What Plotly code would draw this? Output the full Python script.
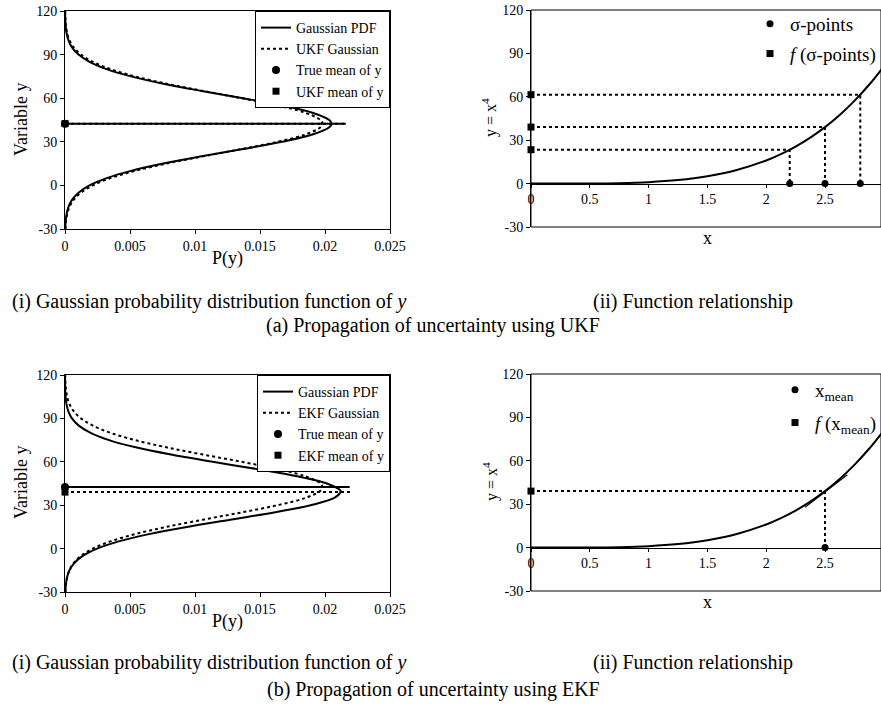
import plotly.graph_objects as go

W, H = 881, 723
FONT = "Liberation Serif, Times New Roman, serif"

# ---------------- data ----------------
# (a)(i) UKF: PDFs of y
y_grid_a = [-30, -25, -20, -15, -10, -5, 0, 5, 10, 15, 20, 25, 30, 35, 40, 42.5,
            45, 50, 55, 60, 65, 70, 75, 80, 85, 90, 95, 100, 105, 110, 115, 120]
pdf_true_a = [0.00002, 0.00005, 0.000118, 0.000261, 0.000539, 0.00104, 0.00189, 0.0032,
              0.00508, 0.00756, 0.01051, 0.01369, 0.01668, 0.01903, 0.02033, 0.0205,
              0.02033, 0.01903, 0.01668, 0.01369, 0.01051, 0.00756, 0.00508, 0.0032,
              0.00189, 0.00104, 0.000539, 0.000261, 0.000118, 0.00005, 0.00002, 0.0000074]
pdf_ukf_a = [0.0000306, 0.0000725, 0.000161, 0.000338, 0.000665, 0.00123, 0.00214, 0.0035,
             0.00539, 0.0078, 0.01062, 0.01358, 0.01634, 0.01848, 0.01965, 0.0198,
             0.01965, 0.01848, 0.01634, 0.01358, 0.01062, 0.0078, 0.00539, 0.0035,
             0.00214, 0.00123, 0.000665, 0.000338, 0.000161, 0.0000725, 0.0000306, 0.000012]
true_mean_a = 42.5
ukf_mean_a = 42.5
mean_line_end_a = [0.0216, 0.0216]   # P extent of true / UKF mean lines

# (b)(i) EKF: PDFs of y
y_grid_true_b = [-30, -25, -20, -15, -10, -5, 0, 5, 10, 15, 20, 25, 30, 35, 39, 40,
                 45, 50, 55, 60, 65, 70, 75, 80, 85, 90, 95, 100, 105, 110, 115, 120]
pdf_true_b = [0.0000252, 0.0000645, 0.000154, 0.000343, 0.00071, 0.00137, 0.00247, 0.00413,
              0.00645, 0.00939, 0.01272, 0.01607, 0.0189, 0.02072, 0.0212, 0.0212,
              0.02015, 0.01787, 0.01476, 0.01136, 0.00815, 0.00544, 0.00339, 0.00197,
              0.00106, 0.000535, 0.000251, 0.00011, 0.0000447, 0.000017, 0.000006, 0.000002]
y_grid_ekf_b = [-30, -25, -20, -15, -10, -5, 0, 5, 10, 15, 20, 25, 30, 35, 40, 42.5,
                45, 50, 55, 60, 65, 70, 75, 80, 85, 90, 95, 100, 105, 110, 115, 120]
pdf_ekf_b = [0.0000306, 0.0000725, 0.000161, 0.000338, 0.000665, 0.00123, 0.00214, 0.0035,
             0.00539, 0.0078, 0.01062, 0.01358, 0.01634, 0.01848, 0.01965, 0.0198,
             0.01965, 0.01848, 0.01634, 0.01358, 0.01062, 0.0078, 0.00539, 0.0035,
             0.00214, 0.00123, 0.000665, 0.000338, 0.000161, 0.0000725, 0.0000306, 0.000012]
true_mean_b = 42.5
ekf_mean_b = 39.06
mean_line_end_b = [0.0219, 0.0221]

# (ii) function y = x^4
fx = [0, 0.25, 0.5, 0.75, 1.0, 1.25, 1.5, 1.75, 2.0, 2.125, 2.25, 2.375, 2.5,
      2.625, 2.75, 2.875, 3.0]
fy = [0, 0.004, 0.0625, 0.316, 1.0, 2.44, 5.06, 9.38, 16.0, 20.39, 25.63, 31.82, 39.06,
      47.48, 57.19, 68.32, 81.0]

sigma_x = [2.2, 2.5, 2.8]
sigma_fy = [23.43, 39.06, 61.47]

xmean = [2.5]
xmean_fy = [39.06]
tangent_x = [2.33, 2.69]
tangent_y = [27.8, 50.3]

p_ticks = [0, 0.005, 0.01, 0.015, 0.02, 0.025]
p_ticklabels = ["0", "0.005", "0.01", "0.015", "0.02", "0.025"]
y_ticks = [-30, 0, 30, 60, 90, 120]
y_ticklabels = ["-30", "0", "30", "60", "90", "120"]
x_ticks = [0, 0.5, 1, 1.5, 2, 2.5]
x_ticklabels = ["0", "0.5", "1", "1.5", "2", "2.5"]

# ---------------- layout helpers (page pixel -> paper fraction) ----------------
def fx_(px):
    return px / W

def fy_(py):
    return 1 - py / H

XL = [fx_(65), fx_(390)]
XR = [fx_(531), 1.0]
YT_L = [fy_(229), fy_(11)]
YT_R = [fy_(227), fy_(10)]
YB_L = [fy_(592), fy_(375)]
YB_R = [fy_(591), fy_(374)]
# right panels: x=0 at px 531, x=2.5 at px 825
X_RIGHT_END = (W - 531) / ((825 - 531) / 2.5)

fig = go.Figure()
BLK = "black"

def pdf_panel(xa, ya, leg, y_true, p_true, y_alt, p_alt, alt_name, m_true, m_alt, ends, mean_name):
    fig.add_trace(go.Scatter(x=p_true, y=y_true, mode="lines", name="Gaussian PDF",
                             line=dict(color=BLK, width=2, shape="spline"),
                             xaxis=xa, yaxis=ya, legend=leg))
    fig.add_trace(go.Scatter(x=p_alt, y=y_alt, mode="lines", name=alt_name,
                             line=dict(color=BLK, width=2, dash="dot", shape="spline"),
                             xaxis=xa, yaxis=ya, legend=leg))
    fig.add_trace(go.Scatter(x=[0, ends[0]], y=[m_true, m_true], mode="lines", showlegend=False,
                             line=dict(color=BLK, width=2), xaxis=xa, yaxis=ya))
    fig.add_trace(go.Scatter(x=[0, ends[1]], y=[m_alt, m_alt], mode="lines", showlegend=False,
                             line=dict(color=BLK, width=2, dash="dot"), xaxis=xa, yaxis=ya))
    fig.add_trace(go.Scatter(x=[0], y=[m_true], mode="markers", name="True mean of y",
                             marker=dict(symbol="circle", size=8, color=BLK), cliponaxis=False,
                             xaxis=xa, yaxis=ya, legend=leg))
    fig.add_trace(go.Scatter(x=[0], y=[m_alt], mode="markers", name=mean_name,
                             marker=dict(symbol="square", size=7, color=BLK), cliponaxis=False,
                             xaxis=xa, yaxis=ya, legend=leg))

pdf_panel("x", "y", "legend", y_grid_a, pdf_true_a, y_grid_a, pdf_ukf_a, "UKF Gaussian",
          true_mean_a, ukf_mean_a, mean_line_end_a, "UKF mean of y")
pdf_panel("x3", "y3", "legend3", y_grid_true_b, pdf_true_b, y_grid_ekf_b, pdf_ekf_b, "EKF Gaussian",
          true_mean_b, ekf_mean_b, mean_line_end_b, "EKF mean of y")

# ---- (a)(ii)
fig.add_trace(go.Scatter(x=fx, y=fy, mode="lines", showlegend=False,
                         line=dict(color=BLK, width=2, shape="spline"), xaxis="x2", yaxis="y2"))
for xs, ys in zip(sigma_x, sigma_fy):
    fig.add_trace(go.Scatter(x=[0, xs, xs], y=[ys, ys, 0], mode="lines", showlegend=False,
                             line=dict(color=BLK, width=2, dash="dot"), xaxis="x2", yaxis="y2"))
fig.add_trace(go.Scatter(x=sigma_x, y=[0] * len(sigma_x), mode="markers", name="σ-points",
                         legendgroup="s1",
                         marker=dict(symbol="circle", size=7, color=BLK), cliponaxis=False,
                         xaxis="x2", yaxis="y2", legend="legend2"))
fig.add_trace(go.Scatter(x=[0] * len(sigma_fy), y=sigma_fy, mode="markers",
                         name="<i>f </i>(σ-points)", legendgroup="s2",
                         marker=dict(symbol="square", size=7, color=BLK), cliponaxis=False,
                         xaxis="x2", yaxis="y2", legend="legend2"))

# ---- (b)(ii)
fig.add_trace(go.Scatter(x=fx, y=fy, mode="lines", showlegend=False,
                         line=dict(color=BLK, width=2, shape="spline"), xaxis="x4", yaxis="y4"))
fig.add_trace(go.Scatter(x=tangent_x, y=tangent_y, mode="lines", showlegend=False,
                         line=dict(color=BLK, width=1.2), xaxis="x4", yaxis="y4"))
for xs, ys in zip(xmean, xmean_fy):
    fig.add_trace(go.Scatter(x=[0, xs, xs], y=[ys, ys, 0], mode="lines", showlegend=False,
                             line=dict(color=BLK, width=2, dash="dot"), xaxis="x4", yaxis="y4"))
fig.add_trace(go.Scatter(x=xmean, y=[0] * len(xmean), mode="markers", name="x<sub>mean</sub>",
                         legendgroup="m1",
                         marker=dict(symbol="circle", size=7, color=BLK), cliponaxis=False,
                         xaxis="x4", yaxis="y4", legend="legend4"))
fig.add_trace(go.Scatter(x=[0] * len(xmean_fy), y=xmean_fy, mode="markers",
                         name="<i>f </i>(x<sub>mean</sub>)", legendgroup="m2",
                         marker=dict(symbol="square", size=7, color=BLK), cliponaxis=False,
                         xaxis="x4", yaxis="y4", legend="legend4"))

# ---------------- axes ----------------
tickfont = dict(family=FONT, size=14, color=BLK)
common_ax = dict(showline=True, linecolor=BLK, linewidth=1, tickcolor=BLK, showgrid=False,
                 zeroline=False, tickfont=tickfont, automargin=False, fixedrange=True)

def left_x(dom, anchor):
    return dict(domain=dom, anchor=anchor, range=[0, 0.025], tickvals=p_ticks,
                ticktext=p_ticklabels, mirror=True, ticks="outside", ticklen=4, **common_ax)

def left_y(dom, anchor):
    return dict(domain=dom, anchor=anchor, range=[-30, 120], tickvals=y_ticks,
                ticktext=y_ticklabels, mirror=True, ticks="outside", ticklen=4, **common_ax)

def right_x(dom, ydom):
    pos = ydom[0] + (30 / 150) * (ydom[1] - ydom[0])
    return dict(domain=dom, anchor="free", position=pos, range=[0, X_RIGHT_END],
                tickvals=x_ticks, ticktext=x_ticklabels, ticks="outside", ticklen=3,
                **common_ax)

def right_y(dom, anchor):
    return dict(domain=dom, anchor=anchor, range=[-30, 120], tickvals=y_ticks,
                ticktext=y_ticklabels, ticks="outside", ticklen=4, **common_ax)

legend_common = dict(font=dict(family=FONT, size=14, color=BLK), bgcolor="white",
                     bordercolor=BLK, borderwidth=1, tracegroupgap=0,
                     xanchor="right", yanchor="top", itemwidth=30)
legend_free = dict(xanchor="right", yanchor="top", font=dict(family=FONT, size=19, color=BLK),
                   bgcolor="rgba(0,0,0,0)", borderwidth=0)

fig.update_layout(
    width=W, height=H, margin=dict(l=0, r=0, t=0, b=0, autoexpand=False),
    paper_bgcolor="white", plot_bgcolor="white",
    font=dict(family=FONT, size=14, color=BLK),
    xaxis=left_x(XL, "y"), yaxis=left_y(YT_L, "x"),
    xaxis3=left_x(XL, "y3"), yaxis3=left_y(YB_L, "x3"),
    xaxis2=right_x(XR, YT_R), yaxis2=right_y(YT_R, "x2"),
    xaxis4=right_x(XR, YB_R), yaxis4=right_y(YB_R, "x4"),
    legend=dict(x=fx_(390), y=fy_(11), **legend_common),
    legend3=dict(x=fx_(390), y=fy_(375), **legend_common),
    legend2=dict(x=fx_(881), y=fy_(5), tracegroupgap=2, **legend_free),
    legend4=dict(x=fx_(881), y=fy_(371), tracegroupgap=5, **legend_free),
    showlegend=True,
    hovermode=False,
)

# frames for the function panels
for xd, yd in (("x2 domain", "y2 domain"), ("x4 domain", "y4 domain")):
    fig.add_shape(type="rect", xref=xd, yref=yd, x0=0, x1=1, y0=0, y1=1,
                  line=dict(color=BLK, width=1), layer="above")

# ---------------- text ----------------
def ann(text, x, y, size, xanchor="center", angle=0):
    fig.add_annotation(text=text, x=fx_(x), y=fy_(y), xref="paper", yref="paper",
                       xanchor=xanchor, yanchor="middle", showarrow=False, textangle=angle,
                       font=dict(family=FONT, size=size, color=BLK))

# axis titles
ann("Variable y", 21, 120, 18, angle=-90)
ann("P(y)", 227, 258, 18)
ann("y = x<sup>4</sup>", 490, 118, 16, angle=-90)
ann("x", 707, 238, 18)
ann("Variable y", 21, 483, 18, angle=-90)
ann("P(y)", 227, 621, 18)
ann("y = x<sup>4</sup>", 490, 482, 16, angle=-90)
ann("x", 707, 602, 18)

# captions
ann("(i) Gaussian probability distribution function of <i>y</i>", 10, 301, 20, xanchor="left")
ann("(ii) Function relationship", 591, 301, 20, xanchor="left")
ann("(a) Propagation of uncertainty using UKF", 433, 326, 20)
ann("(i) Gaussian probability distribution function of <i>y</i>", 10, 662, 20, xanchor="left")
ann("(ii) Function relationship", 591, 662, 20, xanchor="left")
ann("(b) Propagation of uncertainty using EKF", 433, 689, 20)

fig.write_html(
    "out.html",
    config={"displayModeBar": False, "staticPlot": True},
    post_script="document.body.style.margin='0';document.body.style.overflow='hidden';",
)
